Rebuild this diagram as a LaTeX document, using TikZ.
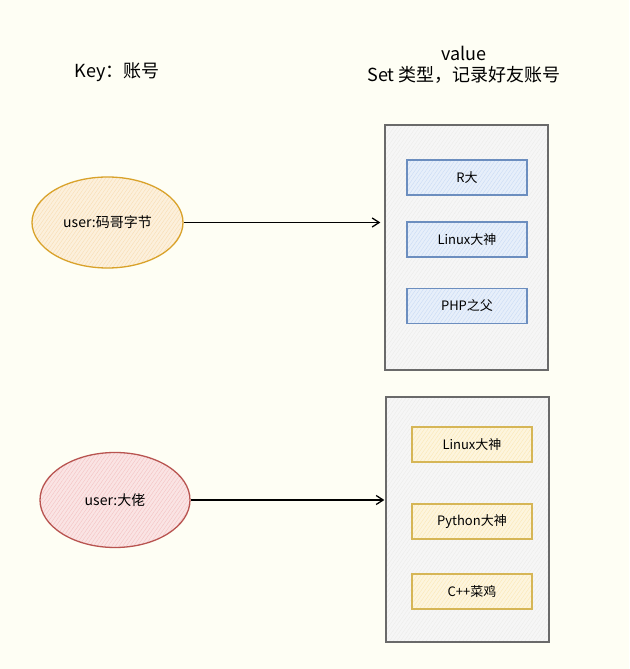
\documentclass[tikz,border=0pt]{standalone}
\usepackage{fontspec}
\setmainfont{Noto Sans CJK SC}
\usetikzlibrary{arrows.meta,patterns.meta,shapes.geometric}
\definecolor{bgc}{HTML}{FEFEF4}
\definecolor{orbd}{HTML}{D9A22A}
\definecolor{orfl}{HTML}{F9DDB2}
\definecolor{rdbd}{HTML}{B85450}
\definecolor{rdfl}{HTML}{F4C2C2}
\definecolor{blbd}{HTML}{6C8EBF}
\definecolor{blfl}{HTML}{C9DBF5}
\definecolor{ylbd}{HTML}{D6B656}
\definecolor{ylfl}{HTML}{FBE8B5}
\definecolor{gybd}{HTML}{6A6A6A}
\definecolor{gyfl}{HTML}{ECECEA}
\tikzset{
  x=1pt,y=1pt,
  hatched/.style={preaction={fill=#1!45},preaction={pattern={Lines[angle=55,distance=3pt,line width=0.4pt]},pattern color=#1}},
  keyell/.style={ellipse,draw=#1bd,line width=1.3pt,hatched=#1fl,inner sep=0pt,font=\fontsize{14}{16}\selectfont},
  setbox/.style={draw=gybd,line width=1.3pt,hatched=gyfl,minimum width=163pt,minimum height=245pt,inner sep=0pt},
  item/.style={draw=#1bd,line width=1.3pt,hatched=#1fl,minimum width=120pt,minimum height=35pt,inner sep=0pt,font=\fontsize{13}{15}\selectfont},
  head/.style={font=\fontsize{18}{21}\selectfont,align=center},
  conn/.style={line width=1.3pt,-{Straight Barb[length=7pt,width=9pt,line width=1.3pt]}}
}
\begin{document}
\begin{tikzpicture}
\fill[bgc] (0,0) rectangle (629,669);
\useasboundingbox (0,0) rectangle (629,669);
\node[head] (keyhead) at (117,597) {Key：账号};
\node[head,align=center,inner sep=0pt] (valhead) at (464,604) {value\\[0pt]Set 类型，记录好友账号};
% set boxes
\node[setbox] (set1) at (466.5,421.5) {};
\node[setbox] (set2) at (467.5,149.5) {};
% items
\node[item=bl] (a1) at (467,491.5) {R大};
\node[item=bl] (a2) at (467,429.5) {Linux大神};
\node[item=bl] (a3) at (467,363) {PHP之父};
\node[item=yl] (b1) at (472,224.5) {Linux大神};
\node[item=yl] (b2) at (472,147.5) {Python大神};
\node[item=yl] (b3) at (472,77.5) {C++菜鸡};
% keys
\node[keyell=or,minimum width=151pt,minimum height=91pt] (k1) at (107.5,446.5) {user:码哥字节};
\node[keyell=rd,minimum width=150pt,minimum height=95pt] (k2) at (115,169) {user:大佬};
% connectors
\draw[conn] (k1.east) -- ([xshift=-4pt]set1.west |- k1.east);
\draw[conn] (k2.east) -- ([xshift=-1pt]set2.west |- k2.east);
\end{tikzpicture}
\end{document}
